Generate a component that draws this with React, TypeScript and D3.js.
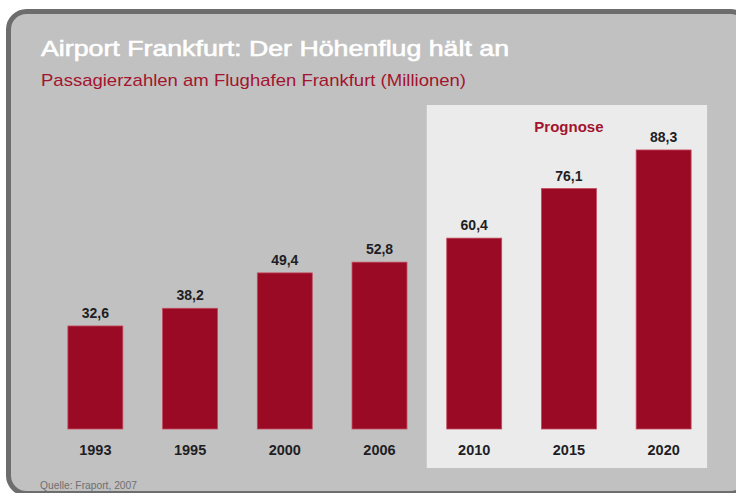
import React from "react";
import * as d3 from "d3";

const years = ["1993", "1995", "2000", "2006", "2010", "2015", "2020"];
const passengers = [32.6, 38.2, 49.4, 52.8, 60.4, 76.1, 88.3];
const forecastYears = ["2010", "2015", "2020"];
const titleText = "Airport Frankfurt: Der Höhenflug hält an";
const subtitleText = "Passagierzahlen am Flughafen Frankfurt (Millionen)";
const forecastLabel = "Prognose";
const sourceText = "Quelle: Fraport, 2007";

const W = 736;
const H = 493;
const FONT = "'Liberation Sans', Arial, Helvetica, sans-serif";

export default function App() {
  const x = d3
    .scaleBand<string>()
    .domain(years)
    .range([48, 711])
    .paddingInner(0.42)
    .paddingOuter(0.21);
  const y = d3.scaleLinear().domain([0, 100]).range([429, 113]);
  const fmt = (v: number) => d3.format(".1f")(v).replace(".", ",");

  const fx0 = x(forecastYears[0])!;
  const fx1 = x(forecastYears[forecastYears.length - 1])! + x.bandwidth();

  return (
    <svg
      width={W}
      height={H}
      style={{ position: "absolute", left: 0, top: 0, fontFamily: FONT }}
    >
      <rect x={0} y={0} width={W} height={H} fill="#ffffff" />
      <rect
        x={8.5}
        y={11.5}
        width={740}
        height={482}
        rx={18}
        ry={18}
        fill="#c1c1c1"
        stroke="#6d6d6d"
        strokeWidth={5}
      />
      <text
        x={41}
        y={56}
        fontSize={22}
        fill="#ffffff"
        stroke="#ffffff"
        strokeWidth={0.6}
        textLength={468}
        lengthAdjust="spacingAndGlyphs"
      >
        {titleText}
      </text>
      <text
        x={41}
        y={86}
        fontSize={17}
        fill="#a3142e"
        textLength={425}
        lengthAdjust="spacingAndGlyphs"
      >
        {subtitleText}
      </text>

      <rect
        x={fx0 - 20}
        y={105}
        width={fx1 - fx0 + 36}
        height={363}
        fill="#ebebeb"
      />
      <text
        x={(x(forecastYears[1])! + x.bandwidth() / 2)}
        y={132}
        textAnchor="middle"
        fontSize={15}
        fontWeight="bold"
        fill="#a3142e"
      >
        {forecastLabel}
      </text>

      {years.map((yr, i) => {
        const v = passengers[i];
        const bx = x(yr)!;
        const bw = x.bandwidth();
        return (
          <g key={yr}>
            <rect
              x={bx}
              y={y(v)}
              width={bw}
              height={y(0) - y(v)}
              fill="#9b0a24"
              stroke="#c2495c"
              strokeWidth={0.8}
            />
            <text
              x={bx + bw / 2}
              y={y(v) - 8}
              textAnchor="middle"
              fontSize={14}
              fontWeight="bold"
              fill="#1e1e24"
            >
              {fmt(v)}
            </text>
            <text
              x={bx + bw / 2}
              y={455}
              textAnchor="middle"
              fontSize={14.5}
              fontWeight="bold"
              fill="#1e1e24"
            >
              {yr}
            </text>
          </g>
        );
      })}

      <text
        x={40}
        y={489}
        fontSize={10}
        fill="#6f6f6f"
        textLength={97}
        lengthAdjust="spacingAndGlyphs"
      >
        {sourceText}
      </text>
    </svg>
  );
}
